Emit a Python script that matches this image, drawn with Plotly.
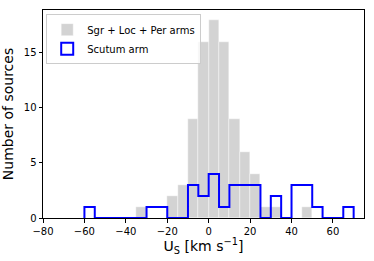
import plotly.graph_objects as go

# Bin edges (width 5 km/s)
gray_left_edges = [-35, -30, -25, -20, -15, -10, -5, 0, 5, 10, 15, 20, 25, 30, 35, 40, 45]
gray_counts =     [1,   0,   0,   2,   3,   9,   16, 18, 16, 9, 6,  4,  1,  1,  0,  0,  1]

blue_left_edges = [-60, -55, -50, -45, -40, -35, -30, -25, -20, -15, -10, -5, 0, 5, 10, 15, 20, 25, 30, 35, 40, 45, 50, 55, 60, 65]
blue_counts =     [1,   0,   0,   0,   0,   0,   1,   1,   0,   0,   3,   2,  4, 1, 3,  3,  3,  0,  2,  0,  3,  3,  1,  0,  0,  1]
bin_width = 5

fig = go.Figure()

fig.add_trace(go.Bar(
    x=[e + bin_width / 2 for e in gray_left_edges], y=gray_counts, width=bin_width,
    marker=dict(color="#d3d3d3", line=dict(color="white", width=0.4)),
    name="Sgr + Loc + Per arms", showlegend=True,
))

# step outline for Scutum arm
sx = [blue_left_edges[0]] + blue_left_edges + [blue_left_edges[-1] + bin_width]
sy = [0] + blue_counts + [0]
fig.add_trace(go.Scatter(
    x=sx, y=sy, mode="lines", line=dict(color="#0000ff", width=2, shape="hv"),
    showlegend=False, cliponaxis=False, hoverinfo="skip",
))
# legend proxy
fig.add_trace(go.Bar(
    x=[None], y=[None], name="Scutum arm",
    marker=dict(color="rgba(255,255,255,0)", line=dict(color="#0000ff", width=2)),
))

axis_common = dict(
    showline=True, linecolor="black", linewidth=1, mirror=True,
    ticks="outside", ticklen=3.5, tickcolor="black", showgrid=False, zeroline=False,
    tickfont=dict(family="DejaVu Sans", size=10, color="black"),
    layer="below traces", automargin=False,
)

fig.update_layout(
    width=374, height=261,
    margin=dict(l=43, r=10, t=10, b=43),
    paper_bgcolor="white", plot_bgcolor="white",
    barmode="overlay", bargap=0,
    font=dict(family="DejaVu Sans", color="black", size=10),
    xaxis=dict(range=[-80, 75], tickvals=[-80, -60, -40, -20, 0, 20, 40, 60],
               ticktext=["−80", "−60", "−40", "−20", "0", "20", "40", "60"],
               title=dict(text="U<sub>S</sub> [km s<sup>−1</sup>]", font=dict(size=14), standoff=4),
               **axis_common),
    yaxis=dict(range=[0, 18.9], tickvals=[0, 5, 10, 15],
               title=dict(text="Number of sources", font=dict(size=14), standoff=8),
               **axis_common),
    legend=dict(x=0.01, y=0.98, xanchor="left", yanchor="top",
                bgcolor="rgba(255,255,255,0.8)", bordercolor="#cccccc", borderwidth=1,
                font=dict(size=10, family="DejaVu Sans"), tracegroupgap=0,
                itemwidth=30),
    showlegend=True,
)

fig.write_html("out.html", config={"displayModeBar": False},
               post_script="document.body.style.margin='0';document.body.style.padding='0';")
